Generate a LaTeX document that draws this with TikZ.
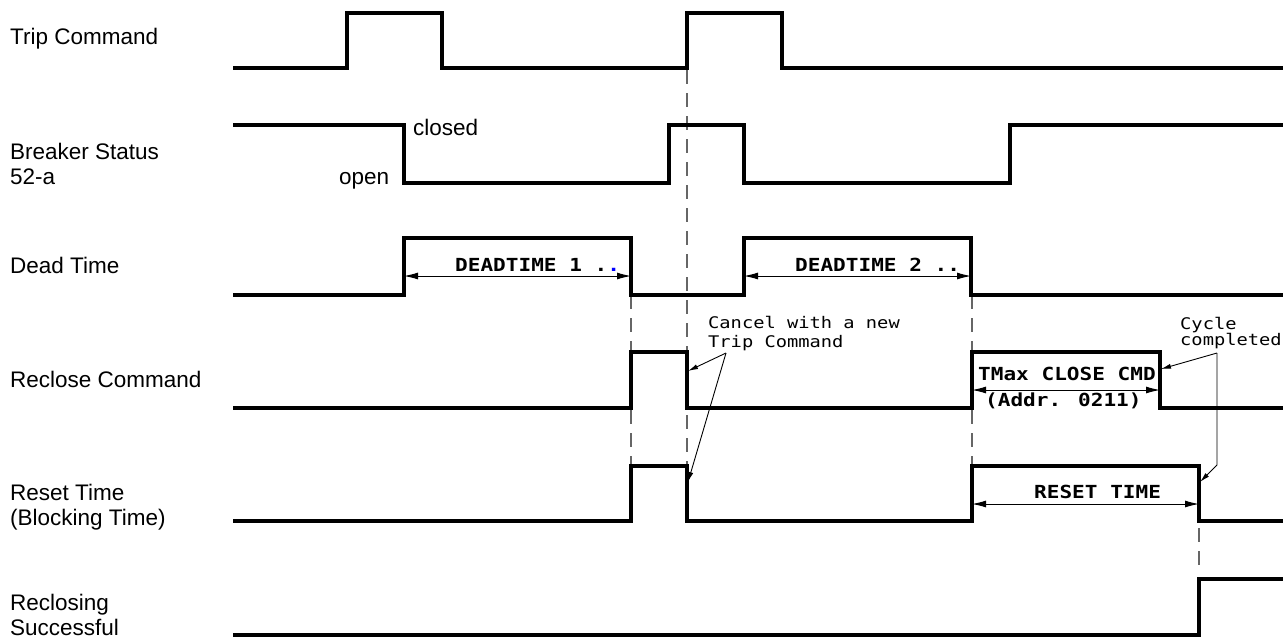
\documentclass[tikz,border=0pt]{standalone}
\usepackage{fontspec}
\setmainfont{Liberation Sans}
\newfontfamily\monofont[FakeStretch=1.17]{DejaVu Sans Mono}
\usetikzlibrary{arrows.meta}
\begin{document}
\begin{tikzpicture}[x=1pt,y=-1pt,
  signal/.style={line width=3.5pt,line join=miter,line cap=butt},
  guide/.style={gray!80!black,line width=1.3pt,dash pattern=on 14pt off 9pt},
  dim/.style={line width=1pt,{Latex[length=14pt,width=7pt]}-{Latex[length=14pt,width=7pt]}},
  note/.style={line width=0.9pt,-{Latex[length=10pt,width=5pt]}},
  rowlabel/.style={anchor=base west,font=\fontsize{22.5}{25}\selectfont,inner sep=0pt},
  statelabel/.style={anchor=base west,font=\fontsize{22.5}{25}\selectfont,inner sep=0pt},
  boldtext/.style={anchor=base west,font=\monofont\bfseries\fontsize{18}{21}\selectfont,inner sep=0pt},
  monotext/.style={anchor=base west,font=\monofont\fontsize{16}{19}\selectfont,inner sep=0pt}]
\useasboundingbox (0,0) rectangle (1283,638);
\fill[white] (0,0) rectangle (1283,638);

% guide lines
\draw[guide] (687,70) -- (687,466);
\draw[guide] (631,295) -- (631,466);
\draw[guide] (972,295) -- (972,466);
\draw[guide] (1199,528) -- (1199,572);

% signals
\draw[signal] (233,68) -- (347,68) -- (347,13) -- (442,13) -- (442,68) -- (687,68) -- (687,13) -- (782,13) -- (782,68) -- (1283,68);
\draw[signal] (233,125) -- (404,125) -- (404,183) -- (669,183) -- (669,125) -- (744,125) -- (744,183) -- (1010,183) -- (1010,125) -- (1283,125);
\draw[signal] (233,295) -- (404,295) -- (404,238) -- (631,238) -- (631,295) -- (744,295) -- (744,238) -- (971,238) -- (971,295) -- (1283,295);
\draw[signal] (233,408) -- (631,408) -- (631,352) -- (687,352) -- (687,408) -- (972,408) -- (972,352) -- (1160,352) -- (1160,408) -- (1283,408);
\draw[signal] (233,521) -- (631,521) -- (631,466) -- (687,466) -- (687,521) -- (972,521) -- (972,466) -- (1199,466) -- (1199,521) -- (1283,521);
\draw[signal] (233,635) -- (1199,635) -- (1199,579) -- (1283,579);

% row labels
\node[rowlabel] (ltrip) at (10,44) {Trip Command};
\node[rowlabel] (lbs1) at (10,159) {Breaker Status};
\node[rowlabel] (lbs2) at (10,184) {52-a};
\node[rowlabel] (ldead) at (10,273) {Dead Time};
\node[rowlabel] (lrec) at (10,387) {Reclose Command};
\node[rowlabel] (lres1) at (10,500) {Reset Time};
\node[rowlabel] (lres2) at (10,525) {(Blocking Time)};
\node[rowlabel] (lsuc1) at (10,610) {Reclosing};
\node[rowlabel] (lsuc2) at (10,635) {Successful};

% state labels
\node[statelabel] (closed) at (413,135) {closed};
\node[statelabel] (open) at (339,184) {open};

% dimension arrows
\coordinate (d1a) at (404,276); \coordinate (d1b) at (631,276);
\coordinate (d2a) at (744,276); \coordinate (d2b) at (971,276);
\coordinate (d3a) at (972,390); \coordinate (d3b) at (1160,390);
\coordinate (d4a) at (972,504); \coordinate (d4b) at (1199,504);
\draw[dim] (d1a) -- (d1b);
\draw[dim] (d2a) -- (d2b);
\draw[dim] (d3a) -- (d3b);
\draw[dim] (d4a) -- (d4b);

\node[boldtext] (dt1) at (455,271) {DEADTIME 1 .{\color{blue}.}};
\node[boldtext] (dt2) at (795,271) {DEADTIME 2 ..};
\node[boldtext] (tmax) at (978,380) {TMax CLOSE CMD};
\node[boldtext] (addr) at (985,406) {(Addr. 0211)};
\node[boldtext] (rst) at (1034,498) {RESET TIME};

% annotations
\node[monotext] (can1) at (708,328) {Cancel with a new};
\node[monotext] (can2) at (708,347) {Trip Command};
\node[monotext] (cyc1) at (1180,329) {Cycle};
\node[monotext] (cyc2) at (1180,345) {completed};

\coordinate (canfrom) at (726,353);
\coordinate (canto1) at (688,371);
\coordinate (canto2) at (688,482);
\draw[note] (canfrom) -- (canto1);
\draw[note] (canfrom) -- (canto2);

\coordinate (cycfrom) at (1217,353);
\coordinate (cycto1) at (1161,369);
\coordinate (cycbend) at (1217,465);
\coordinate (cycto2) at (1200,482);
\draw[note] (cycfrom) -- (cycto1);
\draw[note] (cycfrom) -- (cycbend) -- (cycto2);
\end{tikzpicture}
\end{document}
